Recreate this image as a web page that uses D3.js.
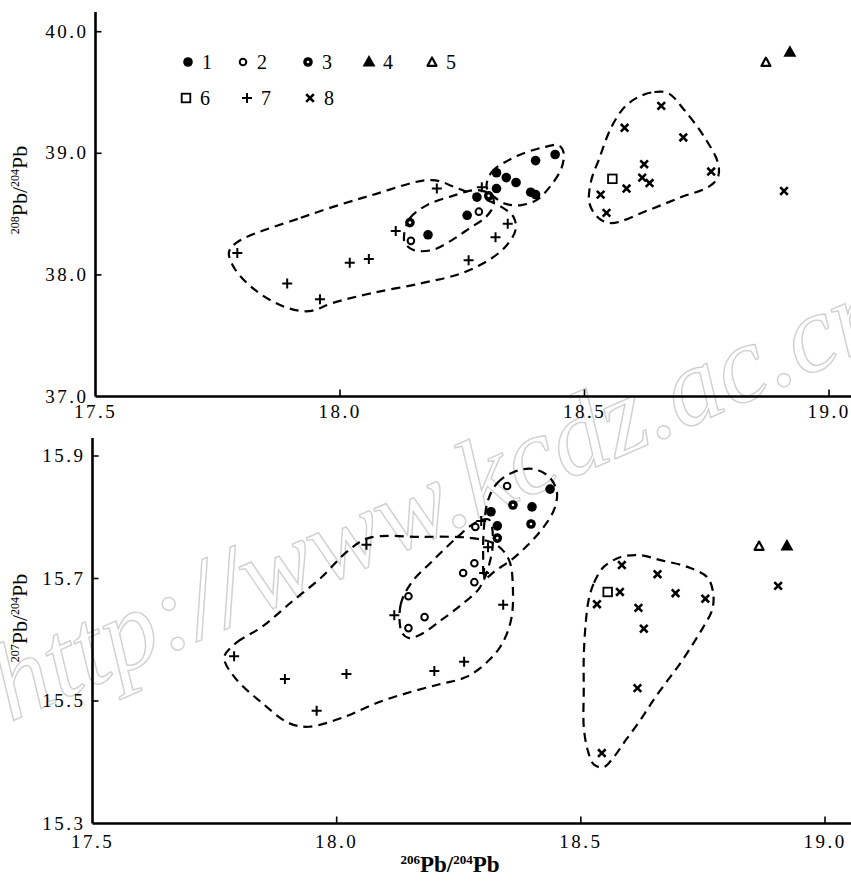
<!DOCTYPE html>
<html><head><meta charset="utf-8">
<script src="https://cdn.jsdelivr.net/npm/d3@7"></script>
<style>body{margin:0;background:#fff}svg{display:block}</style>
</head><body>
<svg id="c" width="851" height="882"></svg>
<script>
// ---------- DATA ----------
const xTicks = [17.5, 18.0, 18.5, 19.0];
const yTicksTop = [37.0, 38.0, 39.0, 40.0];
const yTicksBottom = [15.3, 15.5, 15.7, 15.9];
const legendLabels = ["1", "2", "3", "4", "5", "6", "7", "8"];

// Top panel: [206Pb/204Pb, 208Pb/204Pb]
const top1 = [[18.18,38.33],[18.26,38.49],[18.28,38.64],[18.32,38.71],[18.32,38.84],[18.34,38.80],[18.36,38.76],[18.40,38.94],[18.44,38.99],[18.40,38.66],[18.39,38.68]];
const top2 = [[18.145,38.28],[18.284,38.52]];
const top3 = [[18.143,38.43],[18.304,38.65]];
const top4 = [[18.92,39.83]];
const top5 = [[18.871,39.75]];
const top6 = [[18.557,38.79]];
const top7 = [[17.79,38.18],[17.892,37.93],[17.959,37.80],[18.02,38.10],[18.059,38.13],[18.114,38.36],[18.198,38.71],[18.343,38.42],[18.318,38.31],[18.263,38.12],[18.29,38.72]];
const top8 = [[18.657,39.39],[18.582,39.21],[18.702,39.13],[18.622,38.91],[18.618,38.80],[18.633,38.755],[18.586,38.71],[18.759,38.85],[18.533,38.66],[18.545,38.51],[18.908,38.69]];

// Bottom panel: [206Pb/204Pb, 207Pb/204Pb]
const bot1 = [[18.316,15.809],[18.329,15.786],[18.40,15.817],[18.437,15.846]];
const bot2 = [[18.147,15.671],[18.18,15.637],[18.147,15.619],[18.259,15.709],[18.282,15.725],[18.282,15.694],[18.284,15.784],[18.349,15.851]];
const bot3 = [[18.361,15.82],[18.329,15.766],[18.398,15.789]];
const bot4 = [[18.922,15.753]];
const bot5 = [[18.865,15.753]];
const bot6 = [[18.555,15.678]];
const bot7 = [[17.79,15.573],[17.894,15.536],[18.02,15.544],[17.959,15.484],[18.061,15.755],[18.118,15.64],[18.20,15.549],[18.261,15.564],[18.341,15.657],[18.296,15.794],[18.31,15.751],[18.302,15.709]];
const bot8 = [[18.584,15.722],[18.657,15.707],[18.58,15.678],[18.533,15.658],[18.694,15.676],[18.755,15.667],[18.618,15.652],[18.629,15.618],[18.616,15.521],[18.543,15.415],[18.904,15.688]];

// Dashed field envelopes (data coordinates)
const envTopPlus = [[17.79,38.27],[17.92,38.47],[18.065,38.656],[18.188,38.78],[18.239,38.714],[18.29,38.632],[18.331,38.557],[18.355,38.475],[18.359,38.37],[18.341,38.244],[18.31,38.137],[18.249,38.014],[18.167,37.932],[18.065,37.85],[17.984,37.768],[17.937,37.702],[17.888,37.735],[17.827,37.874],[17.784,38.055],[17.773,38.187]];
const envTopOpen = [[18.131,38.327],[18.143,38.467],[18.178,38.574],[18.229,38.648],[18.28,38.697],[18.31,38.656],[18.314,38.574],[18.298,38.475],[18.265,38.384],[18.229,38.286],[18.188,38.204],[18.151,38.204],[18.133,38.26]];
const envTopSolid = [[18.30,38.722],[18.31,38.845],[18.345,38.944],[18.382,39.01],[18.418,39.051],[18.447,39.067],[18.457,39.01],[18.453,38.878],[18.427,38.714],[18.402,38.615],[18.371,38.574],[18.341,38.582],[18.316,38.639]];
const envTopX = [[18.61,39.463],[18.643,39.504],[18.671,39.495],[18.704,39.356],[18.745,39.134],[18.773,38.92],[18.773,38.804],[18.753,38.722],[18.698,38.64],[18.631,38.533],[18.555,38.426],[18.529,38.467],[18.51,38.59],[18.514,38.78],[18.529,38.944],[18.555,39.216],[18.582,39.38]];

const envBotPlus = [[17.771,15.575],[17.796,15.596],[17.847,15.621],[17.908,15.662],[17.969,15.702],[18.02,15.743],[18.065,15.766],[18.173,15.768],[18.276,15.766],[18.327,15.755],[18.353,15.73],[18.361,15.681],[18.357,15.632],[18.337,15.591],[18.306,15.562],[18.265,15.539],[18.214,15.528],[18.153,15.515],[18.086,15.498],[18.016,15.474],[17.943,15.458],[17.902,15.464],[17.847,15.497],[17.796,15.534],[17.771,15.564]];
const envBotOpen = [[18.133,15.613],[18.131,15.657],[18.153,15.693],[18.198,15.73],[18.245,15.766],[18.286,15.792],[18.312,15.796],[18.32,15.763],[18.312,15.722],[18.292,15.684],[18.255,15.657],[18.214,15.632],[18.173,15.609],[18.147,15.603]];
const envBotSolid = [[18.31,15.828],[18.329,15.856],[18.363,15.874],[18.402,15.879],[18.435,15.866],[18.451,15.841],[18.445,15.812],[18.422,15.782],[18.392,15.755],[18.357,15.73],[18.327,15.714],[18.304,15.701],[18.30,15.738],[18.302,15.787]];
const envBotX = [[18.516,15.665],[18.527,15.693],[18.547,15.719],[18.582,15.735],[18.622,15.738],[18.663,15.73],[18.718,15.719],[18.759,15.702],[18.771,15.676],[18.769,15.649],[18.751,15.621],[18.731,15.595],[18.704,15.562],[18.678,15.534],[18.649,15.502],[18.622,15.469],[18.592,15.436],[18.567,15.408],[18.547,15.392],[18.527,15.396],[18.514,15.42],[18.506,15.458],[18.506,15.518],[18.506,15.572],[18.51,15.627]];

// ---------- DRAWING ----------
const svg = d3.select("#c");
const SERIF = "'Liberation Serif','DejaVu Serif',serif";

// faint watermark of the source scan
svg.append("text")
  .attr("transform", "translate(10,722) rotate(-23.5)")
  .attr("font-family", SERIF).attr("font-style", "italic")
  .attr("font-size", 110).attr("letter-spacing", 0)
  .attr("fill", "none").attr("stroke", "#d0d0d0").attr("stroke-width", 1.4)
  .text("http://www.kcdz.ac.cn");

function marker(g, type, x, y) {
  const m = g.append("g").attr("transform", `translate(${x},${y})`);
  switch (type) {
    case 1: m.append("circle").attr("r", 4.8).attr("fill", "#000"); break;
    case 2: m.append("circle").attr("r", 3.3).attr("fill", "#fff").attr("stroke", "#000").attr("stroke-width", 2); break;
    case 3: m.append("circle").attr("r", 4.8).attr("fill", "#000");
            m.append("circle").attr("r", 1.3).attr("fill", "#fff"); break;
    case 4: m.append("path").attr("d", "M0,-7L6.5,4.5H-6.5Z").attr("fill", "#000"); break;
    case 5: m.append("path").attr("d", "M0,-4.5L4.5,3.8H-4.5Z").attr("fill", "#fff").attr("stroke", "#000").attr("stroke-width", 2.2).attr("stroke-linejoin", "round"); break;
    case 6: m.append("rect").attr("x", -4.3).attr("y", -4.3).attr("width", 8.6).attr("height", 8.6).attr("fill", "#fff").attr("stroke", "#000").attr("stroke-width", 1.8); break;
    case 7: m.append("path").attr("d", "M-5,0H5M0,-5V5").attr("stroke", "#000").attr("stroke-width", 2); break;
    case 8: m.append("path").attr("d", "M-3.8,-3.8L3.8,3.8M3.8,-3.8L-3.8,3.8").attr("stroke", "#000").attr("stroke-width", 2.6); break;
  }
}

function panel(opt) {
  const x = d3.scaleLinear().domain([17.5, 19.0]).range(opt.xr);
  const y = d3.scaleLinear().domain(opt.yd).range(opt.yr);
  const g = svg.append("g");
  const x0 = x(17.5), yb = y(opt.yd[0]);

  const line = d3.line().x(d => x(d[0])).y(d => y(d[1])).curve(d3.curveCatmullRomClosed.alpha(0.5));
  opt.envs.forEach(e => g.append("path").attr("d", line(e))
    .attr("fill", "none").attr("stroke", "#000").attr("stroke-width", 2.2)
    .attr("stroke-dasharray", "9,6"));

  g.append("line").attr("x1", x0).attr("x2", 851).attr("y1", yb).attr("y2", yb)
    .attr("stroke", "#000").attr("stroke-width", 2.6);
  g.append("line").attr("x1", x0).attr("x2", x0).attr("y1", yb).attr("y2", opt.yTop)
    .attr("stroke", "#000").attr("stroke-width", 2.6);
  xTicks.forEach(t => {
    if (t > 17.5) g.append("line").attr("x1", x(t)).attr("x2", x(t)).attr("y1", yb).attr("y2", yb - 7)
      .attr("stroke", "#000").attr("stroke-width", 1.6);
    g.append("text").attr("x", x(t)).attr("y", yb + opt.xLabOff)
      .attr("text-anchor", "middle").attr("font-family", SERIF).attr("font-size", 19)
      .attr("letter-spacing", 2.5).text(d3.format(".1f")(t));
  });
  opt.yTicks.forEach(t => {
    if (t > opt.yd[0]) g.append("line").attr("x1", x0).attr("x2", x0 + 6).attr("y1", y(t)).attr("y2", y(t))
      .attr("stroke", "#000").attr("stroke-width", 1.6);
    g.append("text").attr("x", x0 - 7).attr("y", y(t) + 6)
      .attr("text-anchor", "end").attr("font-family", SERIF).attr("font-size", 19)
      .attr("letter-spacing", 2.5).text(d3.format(".1f")(t));
  });

  const yt = g.append("text").attr("transform", `translate(${opt.ytX},${opt.ytY}) rotate(-90)`)
    .attr("text-anchor", "middle").attr("font-family", SERIF).attr("font-size", 22);
  yt.append("tspan").attr("font-size", 12).attr("dy", -8).text(opt.isoTop);
  yt.append("tspan").attr("dy", 8).text("Pb/");
  yt.append("tspan").attr("font-size", 12).attr("dy", -8).text("204");
  yt.append("tspan").attr("dy", 8).text("Pb");

  opt.series.forEach((s, i) => s.forEach(d => marker(g, i + 1, x(d[0]), y(d[1]))));
  return {x, y};
}

panel({
  xr: [95.5, 829], yd: [37.0, 40.0], yr: [396.5, 31.7], yTop: 12,
  yTicks: yTicksTop, xLabOff: 21, ytX: 27, ytY: 190, isoTop: "208",
  envs: [envTopPlus, envTopOpen, envTopSolid, envTopX],
  series: [top1, top2, top3, top4, top5, top6, top7, top8]
});
panel({
  xr: [92.5, 825], yd: [15.3, 15.9], yr: [823.5, 456], yTop: 438,
  yTicks: yTicksBottom, xLabOff: 24, ytX: 27, ytY: 618, isoTop: "207",
  envs: [envBotPlus, envBotOpen, envBotSolid, envBotX],
  series: [bot1, bot2, bot3, bot4, bot5, bot6, bot7, bot8]
});

const xt = svg.append("text").attr("x", 450).attr("y", 872).attr("text-anchor", "middle")
  .attr("font-family", SERIF).attr("font-size", 23).attr("font-weight", "bold");
xt.append("tspan").attr("font-size", 13).attr("dy", -8).text("206");
xt.append("tspan").attr("dy", 8).text("Pb/");
xt.append("tspan").attr("font-size", 13).attr("dy", -8).text("204");
xt.append("tspan").attr("dy", 8).text("Pb");

const lg = svg.append("g");
const legPos = [[188,62],[243,62],[308,62],[369,62],[432,62],[186,98],[247,98],[310,98]];
legendLabels.forEach((lab, i) => {
  marker(lg, i + 1, legPos[i][0], legPos[i][1]);
  lg.append("text").attr("x", legPos[i][0] + 14).attr("y", legPos[i][1] + 7)
    .attr("font-family", SERIF).attr("font-size", 20).text(lab);
});
</script>
</body></html>
